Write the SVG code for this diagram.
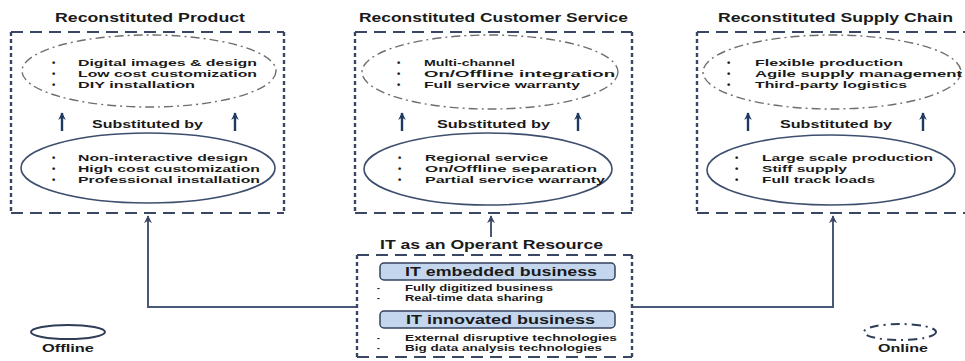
<svg xmlns="http://www.w3.org/2000/svg" width="965" height="361" viewBox="0 0 965 361">
<style>
text{font-family:"Liberation Sans","Arial",sans-serif;font-weight:bold;fill:#1a1a1a;}
.t{font-size:12px;}
.l{font-size:9.5px;}
.sb{font-size:10.5px;}
.s{font-size:8.5px;}
.b{font-size:13px;}
.lg{font-size:10px;}
.hd{stroke:#3a4764;stroke-width:2;stroke-dasharray:12 7;fill:none;}
.vd{stroke:#3a4764;stroke-width:2.4;stroke-dasharray:4 3;fill:none;}
.on{fill:none;stroke:#6e6e6e;stroke-width:1.4;stroke-dasharray:9 4 2 4;}
.off{fill:none;stroke:#3d4f6e;stroke-width:1.6;}
.ar{stroke:#1f3a5f;stroke-width:2.4;fill:none;marker-end:url(#ah);}
.cn{stroke:#4a5877;stroke-width:2;fill:none;}
.pill{fill:#c3d6ee;stroke:#34425e;stroke-width:1.5;}
</style>
<defs>
<marker id="ah" viewBox="0 0 10 10" refX="9" refY="5" markerWidth="3.2" markerHeight="3.2" orient="auto" markerUnits="strokeWidth">
<path d="M0,0 L10,5 L0,10 L3,5 z" fill="#1f3a5f"/>
</marker>
<marker id="ch" viewBox="0 0 10 10" refX="9" refY="5" markerWidth="4" markerHeight="4" orient="auto" markerUnits="strokeWidth">
<path d="M0,0 L10,5 L0,10 L3,5 z" fill="#3a4764"/>
</marker>
</defs>
<rect width="965" height="361" fill="#ffffff"/>

<g id="connectors">
<path class="cn" d="M357,307 H148 V216" marker-end="url(#ch)"/>
<path class="cn" d="M632,307 H833 V216" marker-end="url(#ch)"/>
<path class="cn" d="M491,237 V216" marker-end="url(#ch)"/>
</g>

<g id="product">
<text class="t" x="55" y="22" textLength="190" lengthAdjust="spacingAndGlyphs">Reconstituted Product</text>
<path class="hd" d="M11,32 H284 M11,213 H284"/>
<path class="vd" d="M11,32 V213 M284,32 V213"/>
<ellipse class="on" cx="149" cy="71" rx="127" ry="36"/>
<text class="l" x="52" y="66">•</text><text class="l" x="78" y="66" textLength="179" lengthAdjust="spacingAndGlyphs">Digital images &amp; design</text>
<text class="l" x="52" y="77">•</text><text class="l" x="78" y="77" textLength="179" lengthAdjust="spacingAndGlyphs">Low cost customization</text>
<text class="l" x="52" y="88">•</text><text class="l" x="78" y="88" textLength="117" lengthAdjust="spacingAndGlyphs">DIY installation</text>
<path class="ar" d="M62,131 V113"/><path class="ar" d="M235,131 V113"/>
<text class="sb" x="92" y="128" textLength="111" lengthAdjust="spacingAndGlyphs">Substituted by</text>
<ellipse class="off" cx="148" cy="168" rx="127" ry="35"/>
<text class="l" x="52" y="161">•</text><text class="l" x="78" y="161" textLength="170" lengthAdjust="spacingAndGlyphs">Non-interactive design</text>
<text class="l" x="52" y="172">•</text><text class="l" x="78" y="172" textLength="182" lengthAdjust="spacingAndGlyphs">High cost customization</text>
<text class="l" x="52" y="183">•</text><text class="l" x="78" y="183" textLength="182" lengthAdjust="spacingAndGlyphs">Professional installation</text>
</g>

<g id="service">
<text class="t" x="359" y="22" textLength="269" lengthAdjust="spacingAndGlyphs">Reconstituted Customer Service</text>
<path class="hd" d="M355,32 H632 M355,213 H632"/>
<path class="vd" d="M355,32 V213 M632,32 V213"/>
<ellipse class="on" cx="490" cy="72" rx="128" ry="37"/>
<text class="l" x="397" y="66">•</text><text class="l" x="424" y="66" textLength="91" lengthAdjust="spacingAndGlyphs">Multi-channel</text>
<text class="l" x="397" y="77">•</text><text class="l" x="424" y="77" textLength="191" lengthAdjust="spacingAndGlyphs">On/Offline integration</text>
<text class="l" x="397" y="88">•</text><text class="l" x="424" y="88" textLength="156" lengthAdjust="spacingAndGlyphs">Full service warranty</text>
<path class="ar" d="M402,131 V113"/><path class="ar" d="M578,131 V113"/>
<text class="sb" x="437" y="128" textLength="113" lengthAdjust="spacingAndGlyphs">Substituted by</text>
<ellipse class="off" cx="488" cy="169" rx="124" ry="36"/>
<text class="l" x="398" y="161">•</text><text class="l" x="425" y="161" textLength="123" lengthAdjust="spacingAndGlyphs">Regional service</text>
<text class="l" x="398" y="172">•</text><text class="l" x="425" y="172" textLength="172" lengthAdjust="spacingAndGlyphs">On/Offline separation</text>
<text class="l" x="398" y="183">•</text><text class="l" x="425" y="183" textLength="180" lengthAdjust="spacingAndGlyphs">Partial service warranty</text>
</g>

<g id="supply">
<text class="t" x="718" y="22" textLength="235" lengthAdjust="spacingAndGlyphs">Reconstituted Supply Chain</text>
<path class="hd" d="M697,32 H968 M697,213 H968"/>
<path class="vd" d="M697,32 V213"/>
<ellipse class="on" cx="832" cy="72" rx="129" ry="37"/>
<text class="l" x="727" y="66">•</text><text class="l" x="755" y="66" textLength="148" lengthAdjust="spacingAndGlyphs">Flexible production</text>
<text class="l" x="727" y="77">•</text><text class="l" x="755" y="77" textLength="207" lengthAdjust="spacingAndGlyphs">Agile supply management</text>
<text class="l" x="727" y="88">•</text><text class="l" x="755" y="88" textLength="152" lengthAdjust="spacingAndGlyphs">Third-party logistics</text>
<path class="ar" d="M748,131 V113"/><path class="ar" d="M923,131 V113"/>
<text class="sb" x="780" y="128" textLength="112" lengthAdjust="spacingAndGlyphs">Substituted by</text>
<ellipse class="off" cx="831" cy="170" rx="124" ry="35"/>
<text class="l" x="735" y="161">•</text><text class="l" x="762" y="161" textLength="171" lengthAdjust="spacingAndGlyphs">Large scale production</text>
<text class="l" x="735" y="172">•</text><text class="l" x="762" y="172" textLength="85" lengthAdjust="spacingAndGlyphs">Stiff supply</text>
<text class="l" x="735" y="183">•</text><text class="l" x="762" y="183" textLength="113" lengthAdjust="spacingAndGlyphs">Full track loads</text>
</g>

<g id="it-resource">
<text class="t" x="380" y="249" textLength="223" lengthAdjust="spacingAndGlyphs">IT as an Operant Resource</text>
<path class="hd" d="M357,255 H632 M357,357 H632"/>
<path class="vd" d="M357,255 V357 M632,255 V357"/>
<rect class="pill" x="380" y="263" width="235" height="17" rx="4"/>
<text class="b" x="405" y="276" textLength="192" lengthAdjust="spacingAndGlyphs">IT embedded business</text>
<text class="s" x="377" y="291">-</text><text class="s" x="405" y="291" textLength="148" lengthAdjust="spacingAndGlyphs">Fully digitized business</text>
<text class="s" x="377" y="301">-</text><text class="s" x="405" y="301" textLength="138" lengthAdjust="spacingAndGlyphs">Real-time data sharing</text>
<rect class="pill" x="380" y="311" width="235" height="17" rx="4"/>
<text class="b" x="406" y="324" textLength="189" lengthAdjust="spacingAndGlyphs">IT innovated business</text>
<text class="s" x="377" y="341">-</text><text class="s" x="405" y="341" textLength="212" lengthAdjust="spacingAndGlyphs">External disruptive technologies</text>
<text class="s" x="377" y="351">-</text><text class="s" x="405" y="351" textLength="197" lengthAdjust="spacingAndGlyphs">Big data analysis technologies</text>
</g>

<g id="legend-offline">
<ellipse cx="68" cy="332" rx="37" ry="7" fill="none" stroke="#2f3d58" stroke-width="2"/>
<text class="lg" x="42" y="352" textLength="52" lengthAdjust="spacingAndGlyphs">Offline</text>
</g>
<g id="legend-online">
<ellipse cx="900" cy="332" rx="36" ry="8" fill="none" stroke="#2f3d58" stroke-width="2" stroke-dasharray="9 5 2 5"/>
<text class="lg" x="878" y="352" textLength="50" lengthAdjust="spacingAndGlyphs">Online</text>
</g>
</svg>
